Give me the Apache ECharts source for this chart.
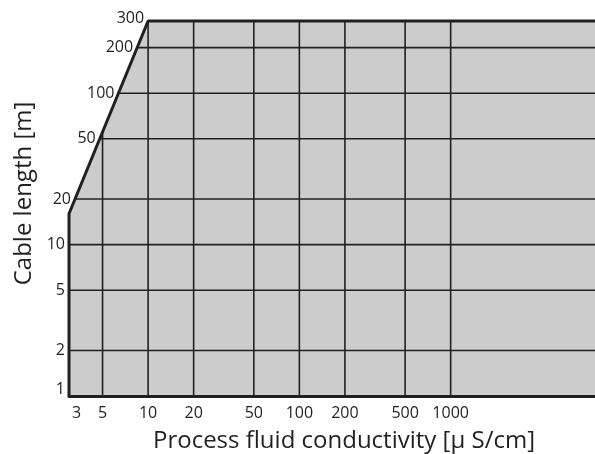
<!DOCTYPE html>
<html>
<head>
<meta charset="utf-8">
<script src="https://cdn.jsdelivr.net/npm/echarts@6/dist/echarts.min.js"></script>
<style>
html,body{margin:0;padding:0;background:#fff;}
#chart{width:595px;height:454px;}
</style>
</head>
<body>
<div id="chart"></div>
<script>
// ---- data ----
var xTicks = [3, 5, 10, 20, 50, 100, 200, 500, 1000];
var yTicks = [1, 2, 5, 10, 20, 50, 100, 200, 300];
var xMin = 3, xMax = 9000;
var yMin = 1, yMax = 300;
// boundary of the permitted (grey) region: conductivity vs max cable length
var boundaryX = [3, 3, 10, 9000];
var boundaryY = [1, 16, 300, 300];

var INK = '#231f20';
var FONT = 'Open Sans';

function lg(v){ return Math.log(v) / Math.LN10; }
// x of boundary at a given y (log interpolation along the boundary polyline)
function bX(v){
  for (var i = 0; i < boundaryX.length - 1; i++) {
    var y0 = boundaryY[i], y1 = boundaryY[i+1];
    if (v >= y0 && v <= y1 && y1 > y0) {
      var t = (lg(v) - lg(y0)) / (lg(y1) - lg(y0));
      return Math.pow(10, lg(boundaryX[i]) + t * (lg(boundaryX[i+1]) - lg(boundaryX[i])));
    }
  }
  return boundaryX[0];
}
// y of boundary at a given x
function bY(u){
  for (var i = 0; i < boundaryX.length - 1; i++) {
    var x0 = boundaryX[i], x1 = boundaryX[i+1];
    if (u >= x0 && u <= x1 && x1 > x0) {
      var t = (lg(u) - lg(x0)) / (lg(x1) - lg(x0));
      return Math.pow(10, lg(boundaryY[i]) + t * (lg(boundaryY[i+1]) - lg(boundaryY[i])));
    }
  }
  return yMax;
}

var boundaryData = boundaryX.map(function(x, i){ return [x, boundaryY[i]]; });
// white area outside the boundary (upper-left)
var outsidePoly = [[boundaryX[1], boundaryY[1]], [boundaryX[2], boundaryY[2]], [boundaryX[0], yMax]];

var chart = echarts.init(document.getElementById('chart'));
chart.setOption({
  animation: false,
  grid: { left: 69, right: 0, top: 21, bottom: 58, show: true, backgroundColor: '#cccccc', borderWidth: 0,
          containLabel: false, outerBoundsMode: 'none' },
  xAxis: {
    type: 'log', logBase: 10, min: xMin, max: xMax,
    name: 'Process fluid conductivity [μ S/cm]',
    nameLocation: 'middle', nameGap: 33,
    nameTextStyle: { fontFamily: FONT, fontSize: 24, color: INK, padding: [0, 0, 0, 24] },
    axisLine: { show: true, onZero: false, lineStyle: { color: INK, width: 3 } },
    axisTick: { show: false }, axisLabel: { show: false }, splitLine: { show: false }
  },
  yAxis: {
    type: 'log', logBase: 10, min: yMin, max: yMax,
    name: 'Cable length [m]',
    nameLocation: 'middle', nameGap: 33,
    nameTextStyle: { fontFamily: FONT, fontSize: 24, color: INK, padding: [0, 0, 0, 30] },
    axisLine: { show: false },
    axisTick: { show: false }, axisLabel: { show: false }, splitLine: { show: false }
  },
  series: [
    {
      type: 'custom', z: 1,
      data: [0],
      renderItem: function(params, api){
        var pts = outsidePoly.map(function(p){ return api.coord(p); });
        return { type: 'polygon', shape: { points: pts }, style: { fill: '#ffffff' } };
      }
    },
    {
      type: 'custom', z: 2,
      data: xTicks.slice(1),
      renderItem: function(params, api){
        var u = api.value(0);
        var p1 = api.coord([u, yMin]);
        var p2 = api.coord([u, bY(u)]);
        return { type: 'line', shape: { x1: p1[0], y1: p1[1], x2: p2[0], y2: p2[1] },
                 style: { stroke: INK, lineWidth: 1.6 } };
      }
    },
    {
      type: 'custom', z: 2,
      data: yTicks.slice(1, yTicks.length - 1),
      renderItem: function(params, api){
        var v = api.value(0);
        var p1 = api.coord([bX(v), v]);
        var p2 = api.coord([xMax, v]);
        return { type: 'line', shape: { x1: p1[0], y1: p1[1], x2: p2[0], y2: p2[1] },
                 style: { stroke: INK, lineWidth: 1.6 } };
      }
    },
    {
      type: 'line', z: 5, clip: false, symbol: 'none',
      data: boundaryData,
      lineStyle: { color: INK, width: 3 }
    },
    {
      type: 'custom', z: 6,
      data: xTicks,
      renderItem: function(params, api){
        var u = api.value(0);
        var p = api.coord([u, yMin]);
        var first = params.dataIndex === 0;
        return { type: 'text', x: p[0] + (first ? 3 : 0), y: p[1] + 9,
                 style: { text: String(u), align: first ? 'left' : 'center', verticalAlign: 'top',
                          fontFamily: FONT, fontSize: 16, fill: INK } };
      }
    },
    {
      type: 'custom', z: 6,
      data: yTicks,
      renderItem: function(params, api){
        var v = api.value(0);
        var p = api.coord([bX(v), v]);
        var va = 'middle', dy = 0;
        if (v === yMin) { va = 'bottom'; dy = 1; }
        if (v === yMax) { dy = -3; }
        return { type: 'text', x: p[0] - 4, y: p[1] + dy,
                 style: { text: String(v), align: 'right', verticalAlign: va,
                          fontFamily: FONT, fontSize: 16, fill: INK } };
      }
    }
  ]
});
</script>
</body>
</html>
